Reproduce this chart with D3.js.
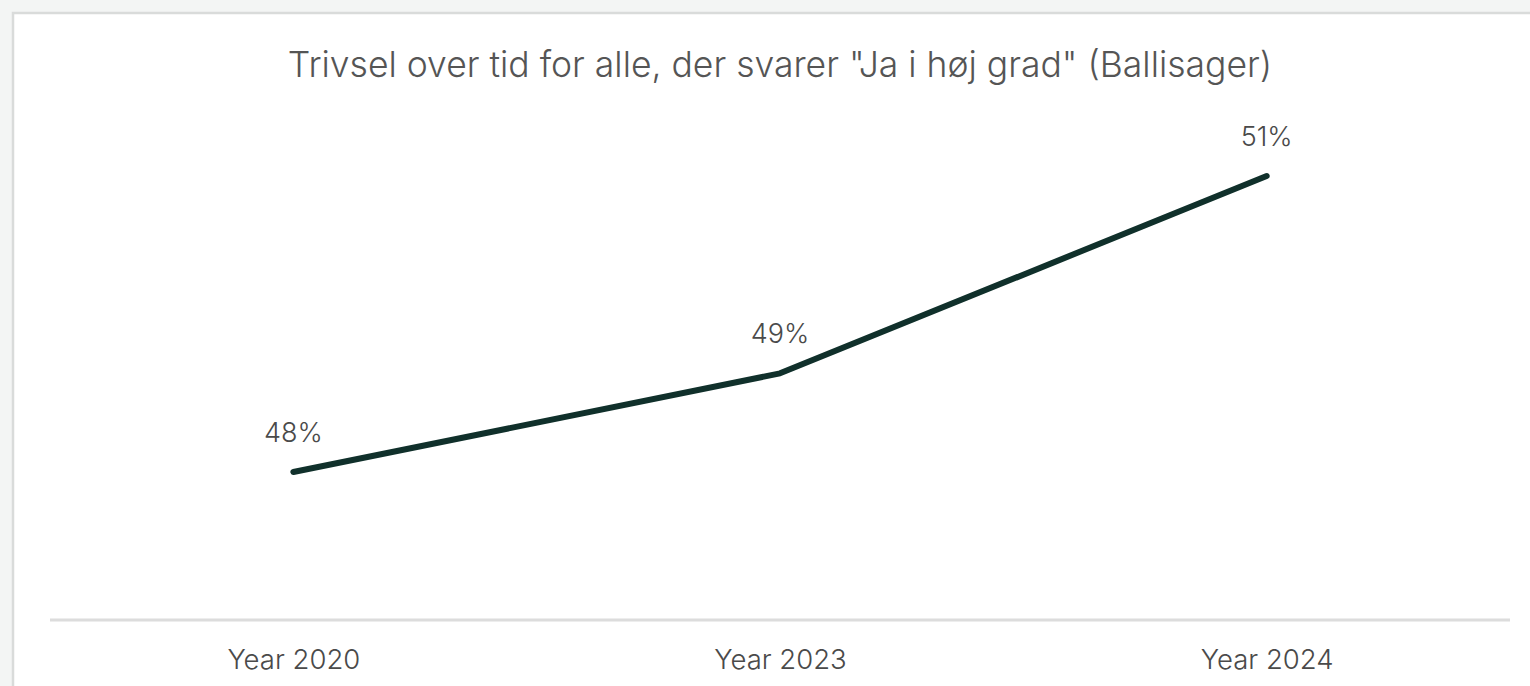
<!DOCTYPE html>
<html>
<head>
<meta charset="utf-8">
<script src="https://cdn.jsdelivr.net/npm/d3@7"></script>
<style>
  html, body { margin: 0; padding: 0; background: #f3f5f4; }
  svg { display: block; }
</style>
</head>
<body>
<svg id="chart" width="1530" height="686"></svg>
<script>
// Share answering "Ja i høj grad", per survey year
const categories = ["Year 2020", "Year 2023", "Year 2024"];
const values = [48, 49, 51];
const valueLabels = ["48%", "49%", "51%"];
const title = "Trivsel over tid for alle, der svarer \"Ja i høj grad\" (Ballisager)";

const svg = d3.select("#chart");
const W = 1530, H = 686;
const font = "Inter, 'Open Sans', sans-serif";

// card
svg.append("rect")
  .attr("x", 13).attr("y", 13)
  .attr("width", W + 20).attr("height", H + 20)
  .attr("fill", "#ffffff")
  .attr("stroke", "#d9dbda").attr("stroke-width", 2.5);

const plot = { left: 50, right: 1510, top: 28, bottom: 620 };

const x = d3.scalePoint()
  .domain(categories)
  .range([plot.left, plot.right])
  .padding(0.5);

const y = d3.scaleLinear()
  .domain([46.5, 52.5])
  .range([plot.bottom, plot.top]);

// title
svg.append("text")
  .attr("x", 780).attr("y", 77)
  .attr("text-anchor", "middle")
  .attr("font-family", font)
  .attr("font-weight", 300)
  .attr("font-size", 35.5)
  .attr("fill", "#555555")
  .text(title);

// x axis
const xAxis = svg.append("g")
  .attr("transform", `translate(0,${plot.bottom})`)
  .call(d3.axisBottom(x).tickSize(0).tickPadding(29));
xAxis.select(".domain")
  .attr("d", `M${plot.left},0H${plot.right}`)
  .attr("stroke", "#dcdcdc").attr("stroke-width", 3);
xAxis.selectAll("text")
  .attr("font-family", font)
  .attr("font-weight", 300)
  .attr("font-size", 27.5)
  .attr("fill", "#4a4a4a");

// line
const data = categories.map((c, i) => ({ c, v: values[i], label: valueLabels[i] }));
svg.append("path")
  .datum(data)
  .attr("fill", "none")
  .attr("stroke", "#10302b")
  .attr("stroke-width", 6)
  .attr("stroke-linecap", "round")
  .attr("stroke-linejoin", "round")
  .attr("d", d3.line().x(d => x(d.c)).y(d => y(d.v)));

// value labels
svg.selectAll(".vlabel")
  .data(data)
  .join("text")
  .attr("class", "vlabel")
  .attr("x", d => x(d.c))
  .attr("y", d => y(d.v) - 30)
  .attr("text-anchor", "middle")
  .attr("font-family", font)
  .attr("font-weight", 300)
  .attr("font-size", 27)
  .attr("fill", "#4a4a4a")
  .text(d => d.label);
</script>
</body>
</html>
